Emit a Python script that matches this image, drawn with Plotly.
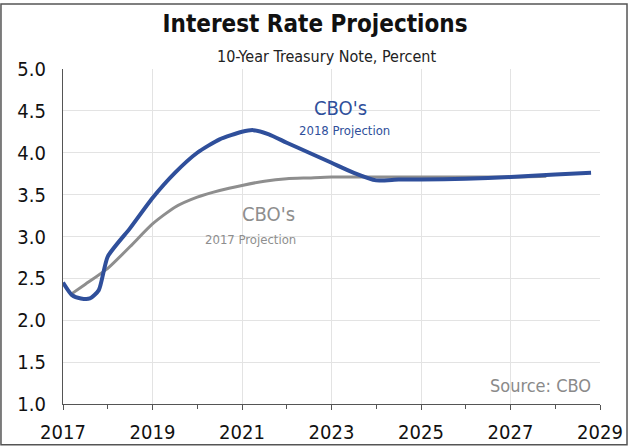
import plotly.graph_objects as go

# Data
years_2018 = [2017.0, 2017.2, 2017.4, 2017.6, 2017.8, 2018.0, 2018.5, 2019.0, 2019.5, 2020.0,
              2020.5, 2021.0, 2021.25, 2021.6, 2022.0, 2022.5, 2023.0, 2023.5, 2024.0, 2024.5,
              2025.0, 2026.0, 2027.0, 2028.0, 2028.8]
proj_2018 = [2.45, 2.30, 2.26, 2.26, 2.36, 2.76, 3.10, 3.46, 3.76, 4.00,
             4.16, 4.25, 4.27, 4.22, 4.12, 4.00, 3.88, 3.76, 3.67, 3.68,
             3.68, 3.69, 3.71, 3.74, 3.76]

years_2017 = [2017.15, 2017.5, 2018.0, 2018.5, 2019.0, 2019.5, 2020.0, 2020.5, 2021.0,
              2021.5, 2022.0, 2022.5, 2023.0, 2024.0, 2025.0, 2026.0, 2027.0, 2027.8]
proj_2017 = [2.30, 2.43, 2.62, 2.88, 3.15, 3.35, 3.47, 3.55, 3.61,
             3.66, 3.69, 3.70, 3.71, 3.71, 3.71, 3.71, 3.71, 3.72]

x_ticks = [2017, 2019, 2021, 2023, 2025, 2027, 2029]
y_ticks = [1.0, 1.5, 2.0, 2.5, 3.0, 3.5, 4.0, 4.5, 5.0]

BLUE = "#2F4F9B"
GRAY = "#8E8E8E"
FONT = "DejaVu Sans Condensed, Liberation Sans Narrow, Arial Narrow, sans-serif"

fig = go.Figure()
fig.add_trace(go.Scatter(x=years_2017, y=proj_2017, mode="lines",
                         line=dict(color=GRAY, width=3, shape="spline", smoothing=0.6),
                         hoverinfo="skip"))
fig.add_trace(go.Scatter(x=years_2018, y=proj_2018, mode="lines",
                         line=dict(color=BLUE, width=4, shape="spline", smoothing=0.6),
                         hoverinfo="skip"))

fig.update_layout(
    width=628, height=446,
    margin=dict(l=63, r=28, t=69, b=42, autoexpand=False),
    paper_bgcolor="white", plot_bgcolor="white",
    showlegend=False,
    font=dict(family=FONT, color="#111111"),
    title=dict(text="<b>Interest Rate Projections</b>", x=(315 - 63) / 537, xref="paper",
               xanchor="center", y=0.966, yanchor="top",
               font=dict(size=24, family=FONT, color="#111111")),
)

fig.update_xaxes(range=[2017, 2029], tickvals=x_ticks, ticktext=[str(v) for v in x_ticks],
                 showgrid=True, gridcolor="#E3E3E3", gridwidth=1,
                 showline=True, linecolor="#555555", linewidth=1.2,
                 ticks="outside", ticklen=5, tickcolor="#555555",
                 minor=dict(dtick=1, ticks="outside", ticklen=4, tickcolor="#555555", showgrid=False),
                 ticklabelstandoff=5, automargin=False,
                 tickfont=dict(size=20, family=FONT, color="#111111"), zeroline=False)
fig.update_yaxes(range=[1.0, 5.0], tickvals=y_ticks, ticktext=[f"{v:.1f}" for v in y_ticks],
                 showgrid=True, gridcolor="#E3E3E3", gridwidth=1,
                 showline=True, linecolor="#555555", linewidth=1.2,
                 ticks="", ticklabelstandoff=12, automargin=False,
                 tickfont=dict(size=20, family=FONT, color="#111111"), zeroline=False)

fig.add_annotation(text="10-Year Treasury Note, Percent", xref="paper", yref="paper",
                   x=(326 - 63) / 537, y=1.0, yanchor="bottom", yshift=1, showarrow=False,
                   font=dict(size=16, family=FONT, color="#222222"))
fig.add_annotation(text="CBO's", x=2023.2, y=4.54, showarrow=False,
                   font=dict(size=20, family=FONT, color=BLUE))
fig.add_annotation(text="2018 Projection", x=2023.3, y=4.27, showarrow=False,
                   font=dict(size=13, family=FONT, color=BLUE))
fig.add_annotation(text="CBO's", x=2021.6, y=3.27, showarrow=False,
                   font=dict(size=20, family=FONT, color=GRAY))
fig.add_annotation(text="2017 Projection", x=2021.2, y=2.97, showarrow=False,
                   font=dict(size=13, family=FONT, color=GRAY))
fig.add_annotation(text="Source: CBO", x=2028.84, y=1.22, xanchor="right", showarrow=False,
                   font=dict(size=18, family=FONT, color="#8A8A8A"))

# outer frame
fig.add_shape(type="rect", xref="paper", yref="paper",
              x0=-0.1155, x1=1.0503, y0=-0.122, y1=(404 - 4) / 335,
              line=dict(color="#555555", width=1.5), layer="below")

fig.write_html("out.html")
